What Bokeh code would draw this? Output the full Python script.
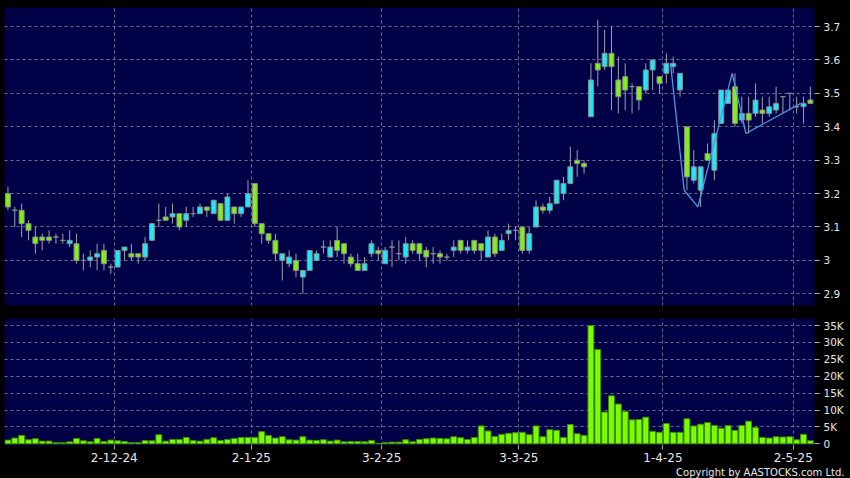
import numpy as np
import pandas as pd
from bokeh.plotting import figure
from bokeh.layouts import column
from bokeh.models import FixedTicker, Range1d, Title, ColumnDataSource
from bokeh.embed import file_html
from bokeh.resources import INLINE

# ---------------- data ----------------
holidays = ["2024-12-25", "2024-12-26", "2025-01-01", "2025-01-29", "2025-01-30",
            "2025-01-31", "2025-04-04", "2025-04-18", "2025-04-21", "2025-05-01",
            "2025-05-05"]
all_days = pd.bdate_range("2024-11-08", "2025-05-07")
dates = [d for d in all_days if d.strftime("%Y-%m-%d") not in holidays]

opens = [3.20, 3.15, 3.15, 3.11, 3.07, 3.07, 3.07, 3.07, 3.06, 3.05,
         3.05, 3.00, 3.00, 3.01, 3.03, 2.98, 2.98, 3.03, 3.02, 3.02,
         3.01, 3.06, 3.12, 3.13, 3.13, 3.14, 3.12, 3.14, 3.14, 3.16,
         3.14, 3.17, 3.12, 3.16, 3.14, 3.16, 3.23, 3.11, 3.08, 3.06,
         3.00, 2.99, 3.00, 2.95, 2.97, 3.00, 3.04, 3.01, 3.06, 3.05,
         3.01, 2.99, 2.97, 3.02, 3.03, 2.99, 3.04, 3.02, 3.01, 3.05,
         3.05, 3.03, 3.02, 3.02, 3.01, 3.03, 3.06, 3.03, 3.06, 3.05,
         3.01, 3.07, 3.03, 3.08, 3.09, 3.10, 3.03, 3.10, 3.16, 3.15,
         3.17, 3.20, 3.23, 3.30, 3.29, 3.43, 3.59, 3.58, 3.62, 3.54,
         3.55, 3.52, 3.52, 3.51, 3.57, 3.55, 3.56, 3.58, 3.51, 3.40,
         3.24, 3.21, 3.32, 3.27, 3.41, 3.47, 3.52, 3.42, 3.44, 3.44,
         3.45, 3.44, 3.45, 3.49, 3.50, 3.46, 3.46, 3.48]
highs = [3.22, 3.16, 3.17, 3.12, 3.10, 3.08, 3.09, 3.08, 3.08, 3.09,
         3.08, 3.02, 3.03, 3.05, 3.05, 2.99, 3.03, 3.04, 3.05, 3.02,
         3.07, 3.11, 3.17, 3.16, 3.17, 3.14, 3.16, 3.16, 3.17, 3.16,
         3.18, 3.17, 3.20, 3.16, 3.16, 3.24, 3.23, 3.11, 3.08, 3.08,
         3.02, 3.03, 3.02, 2.97, 3.03, 3.03, 3.06, 3.06, 3.10, 3.05,
         3.02, 3.02, 3.01, 3.06, 3.04, 3.04, 3.06, 3.06, 3.07, 3.06,
         3.05, 3.04, 3.04, 3.03, 3.02, 3.06, 3.06, 3.06, 3.06, 3.05,
         3.09, 3.08, 3.08, 3.11, 3.10, 3.10, 3.10, 3.18, 3.17, 3.19,
         3.24, 3.25, 3.34, 3.33, 3.30, 3.59, 3.72, 3.69, 3.70, 3.61,
         3.59, 3.53, 3.52, 3.59, 3.60, 3.55, 3.62, 3.61, 3.56, 3.40,
         3.33, 3.28, 3.35, 3.42, 3.51, 3.51, 3.56, 3.49, 3.49, 3.53,
         3.49, 3.49, 3.52, 3.49, 3.50, 3.49, 3.49, 3.52]
lows = [3.15, 3.10, 3.07, 3.06, 3.02, 3.03, 3.05, 3.05, 3.05, 3.04,
        2.99, 2.97, 2.98, 2.97, 2.97, 2.96, 2.98, 3.00, 3.00, 2.99,
        3.00, 3.06, 3.10, 3.12, 3.11, 3.09, 3.10, 3.13, 3.14, 3.13,
        3.14, 3.12, 3.12, 3.11, 3.13, 3.16, 3.10, 3.05, 3.05, 3.00,
        2.94, 2.98, 2.95, 2.90, 2.97, 3.00, 3.02, 3.01, 3.01, 2.99,
        2.98, 2.97, 2.97, 3.01, 3.00, 2.99, 2.98, 3.00, 2.99, 3.02,
        3.00, 2.98, 2.99, 2.99, 3.00, 3.01, 3.02, 3.02, 3.02, 3.00,
        3.01, 3.01, 3.03, 3.06, 3.06, 3.02, 3.02, 3.10, 3.14, 3.14,
        3.17, 3.18, 3.23, 3.25, 3.26, 3.43, 3.52, 3.57, 3.45, 3.44,
        3.45, 3.44, 3.45, 3.50, 3.51, 3.50, 3.53, 3.56, 3.49, 3.21,
        3.23, 3.16, 3.30, 3.24, 3.41, 3.47, 3.40, 3.41, 3.38, 3.43,
        3.41, 3.43, 3.44, 3.44, 3.45, 3.44, 3.41, 3.47]
closes = [3.16, 3.15, 3.11, 3.09, 3.05, 3.06, 3.06, 3.07, 3.06, 3.06,
          3.00, 3.00, 3.01, 3.02, 2.99, 2.98, 3.03, 3.04, 3.01, 3.01,
          3.05, 3.11, 3.12, 3.12, 3.14, 3.10, 3.14, 3.14, 3.16, 3.15,
          3.18, 3.12, 3.19, 3.14, 3.16, 3.20, 3.11, 3.08, 3.06, 3.02,
          3.02, 3.01, 2.97, 2.97, 3.03, 3.02, 3.04, 3.04, 3.03, 3.02,
          2.99, 2.97, 2.99, 3.05, 3.02, 3.03, 3.04, 3.02, 3.05, 3.03,
          3.02, 3.01, 3.02, 3.01, 3.01, 3.04, 3.03, 3.04, 3.03, 3.03,
          3.07, 3.02, 3.06, 3.09, 3.09, 3.03, 3.08, 3.16, 3.15, 3.17,
          3.24, 3.23, 3.28, 3.29, 3.28, 3.54, 3.57, 3.62, 3.58, 3.49,
          3.51, 3.52, 3.48, 3.57, 3.60, 3.53, 3.59, 3.59, 3.56, 3.25,
          3.28, 3.28, 3.30, 3.38, 3.51, 3.51, 3.41, 3.44, 3.42, 3.48,
          3.44, 3.46, 3.47, 3.49, 3.50, 3.46, 3.47, 3.47]
volume_k = [1.1, 1.7, 2.5, 1.2, 1.5, 0.8, 0.8, 0.4, 0.3, 0.6,
            1.6, 0.9, 0.6, 1.6, 0.7, 1.1, 0.9, 0.7, 0.4, 0.4,
            1.0, 0.9, 2.7, 0.8, 1.3, 1.3, 1.9, 1.0, 0.8, 1.3,
            1.8, 1.0, 1.3, 1.6, 1.9, 1.9, 1.9, 3.6, 2.5, 1.7,
            2.1, 1.2, 1.1, 2.1, 1.1, 1.0, 1.2, 0.8, 1.1, 0.6,
            0.7, 0.7, 0.6, 1.0, 0.1, 0.4, 0.5, 0.5, 1.2, 0.6,
            1.3, 1.5, 1.7, 1.6, 1.5, 2.1, 1.8, 1.3, 1.9, 5.3,
            3.8, 2.2, 2.8, 3.1, 3.3, 3.4, 2.7, 5.3, 2.1, 4.2,
            4.0, 1.9, 5.7, 3.0, 2.5, 35.0, 27.9, 9.4, 14.2, 11.8,
            9.6, 7.1, 7.2, 7.9, 3.7, 3.4, 6.0, 3.4, 3.4, 7.4,
            5.3, 5.8, 6.3, 5.4, 4.6, 5.4, 4.0, 5.4, 6.7, 4.8,
            1.9, 1.7, 2.1, 2.0, 2.1, 1.2, 2.8, 0.9]

# thin trend line (zig-zag) nodes: bar index and price
zz_idx = [97, 99, 101, 106, 108, 116]
zz_val = [3.59, 3.21, 3.16, 3.56, 3.38, 3.47]

price_ticks = [2.9, 3, 3.1, 3.2, 3.3, 3.4, 3.5, 3.6, 3.7]
price_labels = ["2.9", "3", "3.1", "3.2", "3.3", "3.4", "3.5", "3.6", "3.7"]
vol_ticks = [0, 5000, 10000, 15000, 20000, 25000, 30000, 35000]
vol_labels = ["0", "5K", "10K", "15K", "20K", "25K", "30K", "35K"]

# ---------------- derived ----------------
n = len(dates)
idx = np.arange(n)
o = np.array(opens); h = np.array(highs); l = np.array(lows); c = np.array(closes)
vol = np.array(volume_k) * 1000

GREEN = "#80F018"
CYAN = "#22E6F6"
NAVY = "#000046"
GRID = "#6E6E90"
TXT = "#E6E6E6"
FONT = "DejaVu Sans"

colors = [CYAN if cc > oo else (GREEN if cc < oo else "#9A9A9A") for oo, cc in zip(o, c)]
src = ColumnDataSource(dict(x=idx, o=o, h=h, l=l, c=c,
                            top=np.maximum(o, c), bottom=np.minimum(o, c),
                            color=colors, vol=vol))

# month starts: first trading day of each month (except the first bar)
tick_pos = []
tick_lab = {}
for i in range(1, n):
    if dates[i].month != dates[i - 1].month:
        pos = i - 0.5
        tick_pos.append(pos)
        d = dates[i]
        tick_lab[pos] = f"{d.day}-{d.month}-{d.strftime('%y')}"

xr = Range1d(-0.5, n - 0.4)

# ---------------- price panel ----------------
p1 = figure(width=850, height=312, x_range=xr, y_range=Range1d(2.865, 3.757),
            output_backend="svg", toolbar_location=None,
            x_axis_location=None, y_axis_location="right",
            min_border_left=4, min_border_right=36, min_border_top=7, min_border_bottom=7,
            background_fill_color=NAVY, border_fill_color="black",
            outline_line_color=None)

p1.segment(x0="x", y0="l", x1="x", y1="h", source=src, line_color="#A0A0A8", line_width=1)
p1.vbar(x="x", width=0.72, top="top", bottom="bottom", source=src,
        fill_color="color", line_color="#8A8A8A", line_width=1)
p1.line(x=np.array(zz_idx) - 0.4, y=zz_val, line_color="#4A9BE0", line_width=1.3)

# ---------------- volume panel ----------------
p2 = figure(width=850, height=166, x_range=xr, y_range=Range1d(-500, 37100),
            output_backend="svg", toolbar_location=None,
            x_axis_location="below", y_axis_location="right",
            min_border_left=4, min_border_right=36, min_border_top=6, min_border_bottom=33,
            background_fill_color=NAVY, border_fill_color="black",
            outline_line_color=None)
p2.vbar(x="x", width=0.86, top="vol", bottom=0, source=src,
        fill_color="#7CFC00", line_color="#3E8C00", line_width=1)

for p, ticks, labels in ((p1, price_ticks, price_labels), (p2, vol_ticks, vol_labels)):
    ax = p.yaxis[0]
    ax.ticker = FixedTicker(ticks=ticks)
    ax.major_label_overrides = dict(zip(ticks, labels))
    ax.axis_line_color = None
    ax.major_tick_line_color = "#B0B0B0"
    ax.major_tick_out = 5
    ax.major_tick_in = 0
    ax.minor_tick_line_color = None
    ax.major_label_standoff = 4
    ax.major_label_text_color = TXT
    ax.major_label_text_font = FONT
    ax.major_label_text_font_size = "10.5px"
    p.ygrid.ticker = FixedTicker(ticks=ticks)
    p.xgrid.ticker = FixedTicker(ticks=tick_pos)
    for g in (p.xgrid, p.ygrid):
        g.grid_line_color = GRID
        g.grid_line_dash = "3 3"
        g.grid_line_width = 1

xa = p2.xaxis[0]
xa.ticker = FixedTicker(ticks=tick_pos)
xa.major_label_overrides = tick_lab
xa.axis_line_color = None
xa.major_tick_line_color = "#B0B0B0"
xa.major_tick_out = 4
xa.major_tick_in = 0
xa.minor_tick_line_color = None
xa.major_label_standoff = 3
xa.major_label_text_color = TXT
xa.major_label_text_font = FONT
xa.major_label_text_font_size = "12px"

p2.add_layout(Title(text="Copyright by AASTOCKS.com Ltd.", align="right", offset=-30,
                    standoff=0, text_color=TXT, text_font=FONT, text_font_size="10px",
                    text_font_style="normal"), "below")

layout = column(p1, p2, spacing=0, styles={"background-color": "black"})

html = file_html(layout, INLINE)
html = html.replace("<body>", '<body style="margin:0;background:#000000;overflow:hidden;">', 1)
open("out.html", "w").write(html)
